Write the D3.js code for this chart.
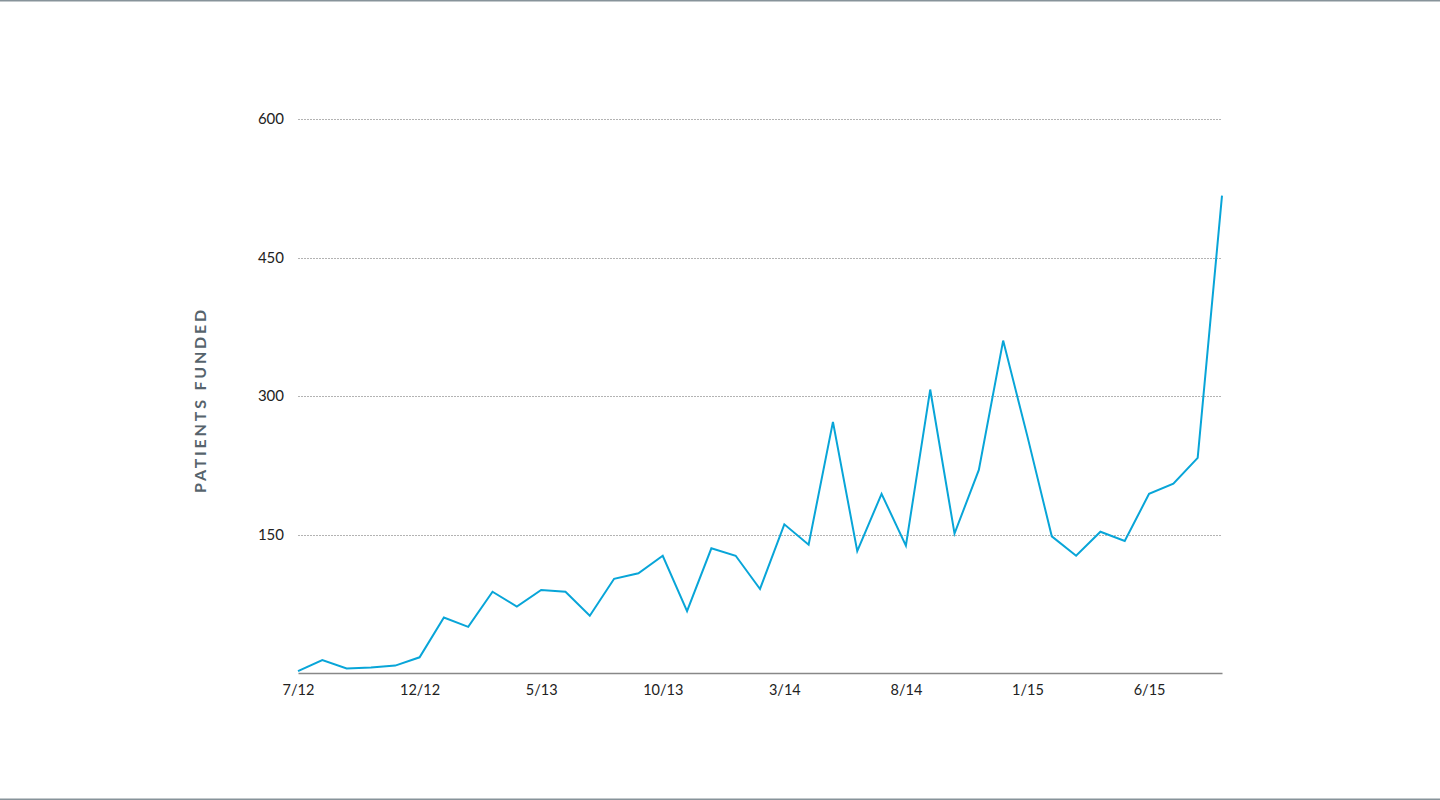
<!DOCTYPE html>
<html><head><meta charset="utf-8">
<script src="https://cdn.jsdelivr.net/npm/d3@7"></script>
<style>
html,body{margin:0;padding:0;background:#fff;}
svg{display:block;}
</style></head>
<body>
<svg id="chart" width="1440" height="800"></svg>
<script>
const months = ["7/12","8/12","9/12","10/12","11/12","12/12","1/13","2/13","3/13","4/13","5/13","6/13","7/13","8/13","9/13","10/13","11/13","12/13","1/14","2/14","3/14","4/14","5/14","6/14","7/14","8/14","9/14","10/14","11/14","12/14","1/15","2/15","3/15","4/15","5/15","6/15","7/15","8/15","9/15"];
const patients = [2,14,5,6,8,17,60,50,88,72,90,88,62,102,108,127,67,135,127,91,161,139,272,132,194,138,307,151,220,360,256,148,127,153,143,194,205,233,517];
const xTickLabels = ["7/12","12/12","5/13","10/13","3/14","8/14","1/15","6/15"];
const yTicks = [150,300,450,600];
const yLabel = "PATIENTS FUNDED";

const svg = d3.select("#chart");
const W = 1440, H = 800;
const m = {left: 298, right: 1222, top: 119, bottom: 673};

svg.append("line").attr("x1",0).attr("x2",W).attr("y1",0.5).attr("y2",0.5).attr("stroke","#87939a").attr("stroke-width",2);
svg.append("line").attr("x1",0).attr("x2",W).attr("y1",799.5).attr("y2",799.5).attr("stroke","#87939a").attr("stroke-width",2);

const x = d3.scalePoint().domain(months).range([m.left, m.right]);
const y = d3.scaleLinear().domain([0,600]).range([m.bottom, m.top]);

// gridlines
svg.append("g").selectAll("line").data(yTicks).join("line")
  .attr("x1", m.left).attr("x2", m.right)
  .attr("y1", d => Math.round(y(d))+0.5).attr("y2", d => Math.round(y(d))+0.5)
  .attr("stroke","#b3b3b3").attr("stroke-width",1).attr("stroke-dasharray","2,1");

// y axis labels
const yAxis = d3.axisLeft(y).tickValues(yTicks).tickSize(0).tickPadding(14);
const gy = svg.append("g").attr("transform",`translate(${m.left},0)`).call(yAxis);
gy.select(".domain").remove();
gy.selectAll("text").attr("font-family","Lato, 'Open Sans', sans-serif").attr("font-size",15).attr("fill","#222");

// x axis
const xAxis = d3.axisBottom(x).tickValues(xTickLabels).tickSize(0).tickPadding(12);
const gx = svg.append("g").attr("transform",`translate(0,${m.bottom})`).call(xAxis);
gx.select(".domain").attr("stroke","#888").attr("stroke-width",1.5);
gx.selectAll("text").attr("font-family","Lato, 'Open Sans', sans-serif").attr("font-size",14.5).attr("fill","#222");

// y label
svg.append("text")
  .attr("transform","translate(206,400) rotate(-90)")
  .attr("text-anchor","middle")
  .attr("font-family","Lato, 'Open Sans', sans-serif")
  .attr("font-weight","bold")
  .attr("font-size",16)
  .attr("letter-spacing","2.8px")
  .attr("fill","#56636c")
  .text(yLabel);

// line
const line = d3.line().x((d,i) => x(months[i])).y(d => y(d));
svg.append("path").datum(patients)
  .attr("d", line)
  .attr("fill","none")
  .attr("stroke","#08a5d8")
  .attr("stroke-width",2)
  .attr("stroke-linejoin","miter");
</script>
</body></html>
